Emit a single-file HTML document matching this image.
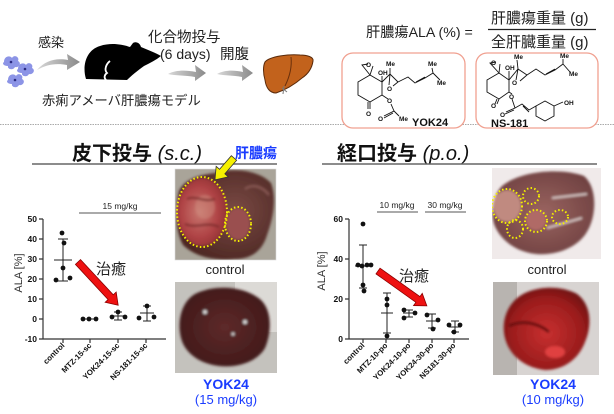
<!DOCTYPE html>
<html><head><meta charset="utf-8">
<style>
html,body{margin:0;padding:0;background:#fff;}
svg{display:block;}
text{font-family:"Liberation Sans","Noto Sans CJK JP",sans-serif;}
</style></head>
<body>
<svg width="614" height="414" viewBox="0 0 614 414" xmlns="http://www.w3.org/2000/svg">
<defs>
  <linearGradient id="garr" x1="0" y1="0" x2="1" y2="0">
    <stop offset="0" stop-color="#d8d8d8"/><stop offset="1" stop-color="#8a8a8a"/>
  </linearGradient>
  <radialGradient id="liv1" cx="0.6" cy="0.45" r="0.6">
    <stop offset="0" stop-color="#7a4a44"/><stop offset="1" stop-color="#4e2824"/>
  </radialGradient>
  <radialGradient id="tum1" cx="0.45" cy="0.5" r="0.6">
    <stop offset="0" stop-color="#c87870"/><stop offset="0.6" stop-color="#b04446"/><stop offset="1" stop-color="#8e2e30"/>
  </radialGradient>
  <radialGradient id="liv2" cx="0.5" cy="0.5" r="0.6">
    <stop offset="0" stop-color="#5e2a2a"/><stop offset="1" stop-color="#3e1818"/>
  </radialGradient>
  <radialGradient id="liv3" cx="0.5" cy="0.5" r="0.6">
    <stop offset="0" stop-color="#9a6460"/><stop offset="1" stop-color="#6e4040"/>
  </radialGradient>
  <radialGradient id="liv4" cx="0.5" cy="0.55" r="0.6">
    <stop offset="0" stop-color="#c83030"/><stop offset="0.7" stop-color="#9a1c1c"/><stop offset="1" stop-color="#6a1010"/>
  </radialGradient>
  <filter id="bl"><feGaussianBlur stdDeviation="1.2"/></filter>
</defs>

<!-- ===== TOP SECTION ===== -->
<g fill="#8c94e6">
  <path d="M4,62 C4,56 10,55 12,58 C14,54 20,57 18,61 C22,63 19,68 15,67 C13,71 7,69 8,66 C3,66 2,63 4,62Z"/>
  <path d="M18,69 C18,63 24,62 26,65 C28,61 34,64 32,68 C36,70 33,75 29,74 C27,78 21,76 22,73 C17,73 16,70 18,69Z"/>
  <path d="M8,80 C8,74 14,73 16,76 C18,72 24,75 22,79 C26,81 23,86 19,85 C17,89 11,87 12,84 C7,84 6,81 8,80Z"/>
</g>
<g fill="#2a2a80"><circle cx="11" cy="62" r="1.3"/><circle cx="25" cy="69" r="1.3"/><circle cx="15" cy="80" r="1.3"/></g>

<text x="38" y="47" font-size="13" fill="#222">感染</text>

<path d="M37,70 C46,60 56,58 68,60 L67,54 L80,62 L67,70 L67,65 C57,63 47,64 37,70Z" fill="url(#garr)"/>
<path d="M168,74 C176,70 185,70 196,72 L195,65 L206,73 L195,81 L195,77 C185,75 176,76 168,74Z" fill="url(#garr)"/>
<path d="M217,74 C225,70 233,70 243,72 L242,65 L253,73 L242,81 L242,77 C233,75 225,76 217,74Z" fill="url(#garr)"/>

<path d="M86,79 C82,66 86,50 100,46 C112,42 124,45 130,47 L133,43 C136,41 140,43 141,47 C148,50 156,53 161,56 C156,60 150,63 144,66 C137,71 131,76 127,80 Z" fill="#000"/>
<path d="M110,61 C106,64 104,70 107,73 C104,75 104,78 106,80" stroke="#fff" stroke-width="1.8" fill="none"/>

<text x="148" y="42" font-size="14.5" fill="#222">化合物投与</text>
<text x="160" y="59" font-size="14" fill="#222">(6 days)</text>
<text x="220" y="59" font-size="14.5" fill="#222">開腹</text>
<text x="42" y="105" font-size="13.3" fill="#222">赤痢アメーバ肝膿瘍モデル</text>

<path d="M265,62 C270,56 290,54 300,55 C307,55 314,57 313,61 C312,68 308,74 302,78 C295,84 285,90 276,93 C270,93 266,88 265,80 C263,73 263,66 265,62Z" fill="#c2621c" stroke="#5a2a0a" stroke-width="1"/>
<path d="M291,57 C292,66 290,76 285,86" stroke="#6a300c" stroke-width="1" fill="none"/>
<path d="M282,88 L287,92 M284,86 L283,94" stroke="#777" stroke-width="1"/>

<text x="366" y="37" font-size="14.2" fill="#222">肝膿瘍ALA (%) =</text>
<text x="491" y="23" font-size="15" fill="#222">肝膿瘍重量 (g)</text>
<line x1="488" y1="29.5" x2="596" y2="29.5" stroke="#222" stroke-width="1.2"/>
<text x="491" y="47" font-size="15" fill="#222">全肝臓重量 (g)</text>

<line x1="0" y1="124.5" x2="614" y2="124.5" stroke="#aaa" stroke-width="1" stroke-dasharray="1.5,1"/>

<rect x="342" y="53" width="123" height="75" rx="11" fill="#fff" stroke="#f0a090" stroke-width="1.3"/>
<rect x="476" y="53" width="122" height="75" rx="11" fill="#fff" stroke="#f0a090" stroke-width="1.3"/>

<g stroke="#111" stroke-width="0.9" fill="none">
  <polygon points="358,82 370,75 382,82 382,95 370,102 358,95"/>
  <path d="M370,75 L362,65 L368,64 M373,66 L370,75"/>
  <path d="M382,82 L382,76"/>
  <path d="M382,82 L390,74 L398,82 M390,74 L390,68 M390,74 L389,85 M398,82 L393,86"/>
  <path d="M398,82 L408,77 L415,83 L425,78 L433,73 L432,68 M433,73 L440,80 M416,82 L425,77"/>
  <path d="M370,102 L370,109 M368,102 L368,109"/>
  <path d="M382,95 L388,99 M391,104 L394,111 L384,116 M393,113 L384,118 M394,111 L399,116"/>
</g>
<g font-size="6.5" font-weight="bold" fill="#111">
  <text x="366" y="67">O</text><text x="378" y="75">OH</text><text x="386" y="66">Me</text>
  <text x="387" y="91">O</text><text x="428" y="66">Me</text><text x="437" y="85">Me</text>
  <text x="366" y="116">O</text><text x="387" y="103">O</text><text x="378" y="121">O</text><text x="399" y="121">Me</text>
</g>
<text x="412" y="126" font-size="11" font-weight="bold" fill="#111">YOK24</text>

<g stroke="#111" stroke-width="0.9" fill="none">
  <polygon points="487,80 499,73 509,80 509,92 499,99 487,92"/>
  <path d="M499,73 L490,63 L496,62 M500,64 L499,73"/>
  <path d="M509,80 L509,71"/>
  <path d="M509,80 L518,69 L527,75 M518,69 L517,60 M518,69 L516,80 M527,75 L520,81"/>
  <path d="M527,75 L536,69 L545,75 L555,70 L563,64 L563,59 M563,64 L570,72 M546,74 L555,69"/>
  <path d="M499,99 L497,104 M497,99 L495,104"/>
  <path d="M509,92 L512,94 M512,99 L515,108 L506,112 M514,110 L505,114 M515,108 L522,104 L529,110 L536,106 M523,106 L529,112"/>
  <polygon points="536,106 545,101 554,106 554,116 545,121 536,116"/>
  <path d="M554,106 L563,102"/>
</g>
<g font-size="6.5" font-weight="bold" fill="#111">
  <text x="491" y="65">O</text><text x="505" y="70">OH</text><text x="514" y="59">Me</text>
  <text x="512" y="85">O</text><text x="560" y="58">Me</text><text x="569" y="76">Me</text>
  <text x="491" y="108">O</text><text x="509" y="99">O</text><text x="500" y="117">O</text><text x="564" y="105">OH</text>
</g>
<text x="491" y="127" font-size="11" font-weight="bold" fill="#111">NS-181</text>

<!-- ===== LEFT SECTION ===== -->
<text x="72" y="160" font-size="20" font-weight="bold" fill="#111">皮下投与 <tspan font-weight="normal" font-style="italic">(s.c.)</tspan></text>
<line x1="32" y1="164" x2="277" y2="164" stroke="#666" stroke-width="1.5"/>

<text x="120" y="209" font-size="8.5" fill="#222" text-anchor="middle">15 mg/kg</text>
<line x1="79" y1="213" x2="161" y2="213" stroke="#777" stroke-width="1.2"/>

<g stroke="#333" stroke-width="1.2">
  <line x1="43" y1="219" x2="43" y2="339"/>
  <line x1="43" y1="339" x2="166" y2="339"/>
  <path d="M39,219H43M39,239H43M39,259H43M39,279H43M39,299H43M39,319H43M39,339H43"/>
  <path d="M63,339V343M90,339V343M118,339V343M146,339V343"/>
</g>
<g font-size="8.5" font-weight="bold" fill="#111" text-anchor="end">
  <text x="37" y="222">50</text><text x="37" y="242">40</text><text x="37" y="262">30</text>
  <text x="37" y="282">20</text><text x="37" y="302">10</text><text x="37" y="322">0</text><text x="37" y="342">-10</text>
</g>
<text transform="translate(22,273) rotate(-90)" font-size="11" fill="#333" text-anchor="middle">ALA [%]</text>
<g font-size="7.8" font-weight="bold" fill="#111" text-anchor="end">
  <text transform="translate(65,346) rotate(-45)">control</text>
  <text transform="translate(92,346) rotate(-45)">MTZ-15-sc</text>
  <text transform="translate(120,346) rotate(-45)">YOK24-15-sc</text>
  <text transform="translate(148,346) rotate(-45)">NS-181-15-sc</text>
</g>
<g stroke="#222" stroke-width="1" fill="none">
  <path d="M63,239V281M58,239H68M58,281H68M54,260H72"/>
  <path d="M82,319H97"/>
  <path d="M118,312V320M114,312H122M114,320H122M111,316H125"/>
  <path d="M147,306V321M143,306H151M143,321H151M140,313H154"/>
</g>
<g fill="#111">
  <circle cx="62" cy="233" r="2.4"/><circle cx="64" cy="243" r="2.4"/><circle cx="63" cy="268" r="2.4"/>
  <circle cx="56" cy="280" r="2.4"/><circle cx="70" cy="278" r="2.4"/>
  <circle cx="83" cy="319" r="2.4"/><circle cx="89" cy="319" r="2.4"/><circle cx="96" cy="319" r="2.4"/>
  <circle cx="112" cy="317" r="2.4"/><circle cx="118" cy="312" r="2.4"/><circle cx="125" cy="317" r="2.4"/>
  <circle cx="139" cy="318" r="2.4"/><circle cx="147" cy="306" r="2.4"/><circle cx="154" cy="317" r="2.4"/>
</g>
<polygon transform="translate(78,262) rotate(47.1)" points="0,-3.5 48,-3.5 48,-7.5 59,0 48,7.5 48,3.5 0,3.5" fill="#ee1111" stroke="#8a0000" stroke-width="0.8"/>
<text x="96" y="274" font-size="15" fill="#222">治癒</text>

<svg x="175" y="169" width="101" height="91" viewBox="0 0 101 91">
  <rect width="101" height="91" fill="#a9a499"/>
  <g filter="url(#bl)">
    <path d="M40,4 C60,-2 85,2 96,14 C102,30 98,50 92,66 C88,80 78,90 60,90 C40,92 20,88 8,76 C0,62 0,38 4,22 C10,10 24,6 40,4Z" fill="url(#liv1)"/>
    <ellipse cx="27" cy="43" rx="25" ry="34" fill="url(#tum1)"/>
    <ellipse cx="63" cy="55" rx="12" ry="16" fill="#9a5050"/>
    <ellipse cx="30" cy="38" rx="10" ry="12" fill="#d09080" opacity="0.45"/>
    <path d="M12,30 C20,26 30,34 40,30 M10,55 C22,60 32,52 44,58" stroke="#7a2a2a" stroke-width="2" fill="none"/>
    <path d="M70,20 C78,14 88,18 94,26" stroke="#8a5a55" stroke-width="2" fill="none"/>
  </g>
  <ellipse cx="27" cy="43" rx="25" ry="35" fill="none" stroke="#f2f000" stroke-width="2" stroke-dasharray="1.5,2.2"/>
  <ellipse cx="63" cy="55" rx="13" ry="17" fill="none" stroke="#f2f000" stroke-width="2" stroke-dasharray="1.5,2.2"/>
</svg>
<rect x="175" y="169" width="101" height="91" fill="none" stroke="#ddd" stroke-width="0.6"/>
<polygon transform="translate(234,158) rotate(131)" points="0,-3.5 18,-3.5 18,-8 29,0 18,8 18,3.5 0,3.5" fill="#f5f000" stroke="#333" stroke-width="0.8"/>
<text x="235" y="158" font-size="14" font-weight="bold" fill="#1a3cff">肝膿瘍</text>
<text x="225" y="274" font-size="13" fill="#222" text-anchor="middle">control</text>

<svg x="175" y="282" width="102" height="91" viewBox="0 0 102 91">
  <rect width="102" height="91" fill="#c4c2bd"/>
  <rect x="60" width="42" height="50" fill="#dcdad6"/>
  <g filter="url(#bl)">
    <path d="M20,12 C40,2 70,4 86,18 C98,30 96,52 90,66 C82,80 62,86 44,84 C26,82 10,72 6,56 C2,40 6,20 20,12Z" fill="url(#liv2)"/>
    <circle cx="30" cy="30" r="2" fill="#ddd"/><circle cx="70" cy="40" r="2" fill="#ddd"/><circle cx="58" cy="52" r="1.5" fill="#ddd"/>
  </g>
</svg>
<text x="226" y="389" font-size="14" font-weight="bold" fill="#1a3cff" text-anchor="middle">YOK24</text>
<text x="226" y="404" font-size="13" fill="#1a3cff" text-anchor="middle">(15 mg/kg)</text>

<!-- ===== RIGHT SECTION ===== -->
<text x="337" y="160" font-size="20" font-weight="bold" fill="#111">経口投与 <tspan font-weight="normal" font-style="italic">(p.o.)</tspan></text>
<line x1="322" y1="164" x2="597" y2="164" stroke="#666" stroke-width="1.5"/>

<text x="397" y="208" font-size="8.5" fill="#222" text-anchor="middle">10 mg/kg</text>
<line x1="377" y1="212" x2="418" y2="212" stroke="#777" stroke-width="1.2"/>
<text x="445" y="208" font-size="8.5" fill="#222" text-anchor="middle">30 mg/kg</text>
<line x1="425" y1="212" x2="466" y2="212" stroke="#777" stroke-width="1.2"/>

<g stroke="#333" stroke-width="1.2">
  <line x1="349" y1="219" x2="349" y2="339"/>
  <line x1="349" y1="339" x2="469" y2="339"/>
  <path d="M345,219H349M345,259H349M345,299H349M345,339H349"/>
  <path d="M363,339V343M386,339V343M409,339V343M432,339V343M454,339V343"/>
</g>
<g font-size="8.5" font-weight="bold" fill="#111" text-anchor="end">
  <text x="343" y="222">60</text><text x="343" y="262">40</text><text x="343" y="302">20</text><text x="343" y="342">0</text>
</g>
<text transform="translate(325,271) rotate(-90)" font-size="11" fill="#333" text-anchor="middle">ALA [%]</text>
<g font-size="7.8" font-weight="bold" fill="#111" text-anchor="end">
  <text transform="translate(365,346) rotate(-45)">control</text>
  <text transform="translate(388,346) rotate(-45)">MTZ-10-po</text>
  <text transform="translate(411,346) rotate(-45)">YOK24-10-po</text>
  <text transform="translate(434,346) rotate(-45)">YOK24-30-po</text>
  <text transform="translate(456,346) rotate(-45)">NS181-30-po</text>
</g>
<g stroke="#222" stroke-width="1" fill="none">
  <path d="M363,245V288M359,245H367M359,288H367M355,266H371"/>
  <path d="M387,293V333M383,293H391M383,333H391M381,313H393"/>
  <path d="M409,310V317M405,310H413M405,317H413M403,313H415"/>
  <path d="M432,314V328M428,314H436M428,328H436M426,321H438"/>
  <path d="M455,321V332M451,321H459M451,332H459M449,327H461"/>
</g>
<g fill="#111">
  <circle cx="363" cy="224" r="2.4"/><circle cx="358" cy="265" r="2.4"/><circle cx="362" cy="266" r="2.4"/>
  <circle cx="367" cy="265" r="2.4"/><circle cx="371" cy="265" r="2.4"/><circle cx="363" cy="285" r="2.4"/><circle cx="364" cy="291" r="2.4"/>
  <circle cx="387" cy="299" r="2.4"/><circle cx="387" cy="305" r="2.4"/><circle cx="387" cy="336" r="2.4"/>
  <circle cx="404" cy="310" r="2.4"/><circle cx="404" cy="318" r="2.4"/><circle cx="415" cy="313" r="2.4"/>
  <circle cx="427" cy="315" r="2.4"/><circle cx="433" cy="329" r="2.4"/><circle cx="438" cy="320" r="2.4"/>
  <circle cx="449" cy="325" r="2.4"/><circle cx="454" cy="332" r="2.4"/><circle cx="460" cy="325" r="2.4"/>
</g>
<polygon transform="translate(378,271) rotate(35.5)" points="0,-3.5 49,-3.5 49,-7.5 60,0 49,7.5 49,3.5 0,3.5" fill="#ee1111" stroke="#8a0000" stroke-width="0.8"/>
<text x="399" y="281" font-size="15" fill="#222">治癒</text>

<svg x="492" y="168" width="109" height="91" viewBox="0 0 109 91">
  <rect width="109" height="91" fill="#f0eaea"/>
  <g filter="url(#bl)">
    <path d="M10,18 C30,2 70,0 92,8 C106,20 104,48 96,62 C88,78 66,88 44,86 C24,84 8,72 2,56 C-2,42 2,26 10,18Z" fill="url(#liv3)"/>
    <ellipse cx="15" cy="38" rx="14" ry="16" fill="#c08a80"/>
    <ellipse cx="44" cy="52" rx="10" ry="10" fill="#b06a66"/>
    <path d="M60,30 L95,26 M55,60 L90,50" stroke="#d8c8c6" stroke-width="2"/>
  </g>
  <g fill="none" stroke="#f2f000" stroke-width="2" stroke-dasharray="1.5,2.2">
    <ellipse cx="15" cy="38" rx="15" ry="17"/>
    <ellipse cx="39" cy="28" rx="8" ry="8"/>
    <ellipse cx="44" cy="53" rx="11" ry="11"/>
    <ellipse cx="23" cy="61" rx="8" ry="9"/>
    <ellipse cx="68" cy="49" rx="8" ry="7"/>
  </g>
</svg>
<text x="547" y="274" font-size="13" fill="#222" text-anchor="middle">control</text>

<svg x="493" y="282" width="106" height="93" viewBox="0 0 106 93">
  <rect width="106" height="93" fill="#d8d4d2"/>
  <rect width="24" height="93" fill="#b8b4b0"/>
  <g filter="url(#bl)">
    <path d="M22,18 C36,4 66,2 84,12 C100,24 98,46 92,60 C86,76 72,88 52,88 C34,86 20,76 14,62 C8,48 10,30 22,18Z" fill="url(#liv4)"/>
    <path d="M16,44 C28,38 44,40 56,50" stroke="#6a1010" stroke-width="3" fill="none"/>
    <ellipse cx="62" cy="70" rx="10" ry="6" fill="#e04040"/>
  </g>
</svg>
<text x="553" y="389" font-size="14" font-weight="bold" fill="#1a3cff" text-anchor="middle">YOK24</text>
<text x="553" y="404" font-size="13" fill="#1a3cff" text-anchor="middle">(10 mg/kg)</text>
</svg>
</body></html>
